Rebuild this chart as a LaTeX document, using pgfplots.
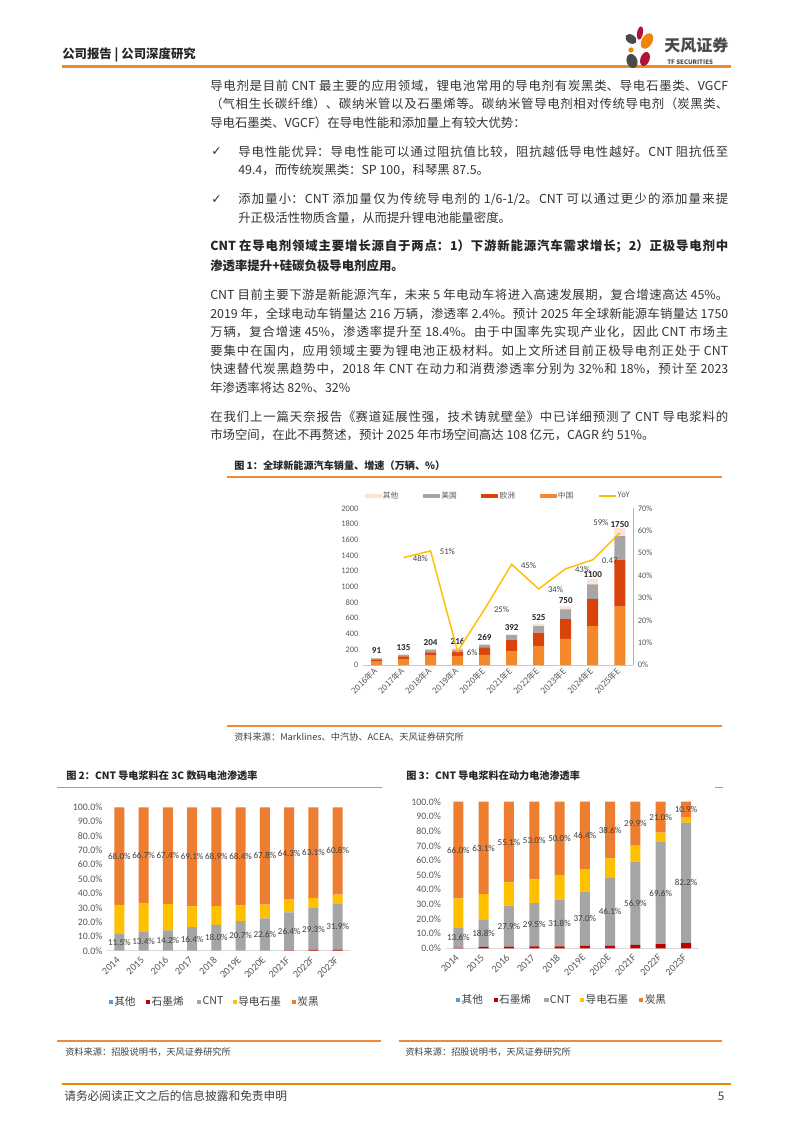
\documentclass[border=0pt]{standalone}
\usepackage{pgfplots}
\pgfplotsset{compat=1.18}
\usepackage{pgfplotstable}
\usepackage{fontspec}
\setmainfont{Noto Sans CJK SC}
\newfontfamily\calib{Carlito}
\newfontfamily\dvs{DejaVu Sans}
\XeTeXlinebreaklocale "zh"
\XeTeXlinebreakskip=0pt plus 2pt minus 0.4pt
\hbadness=10000
\definecolor{hdrline}{HTML}{F08A24}
\definecolor{footline}{HTML}{E38A00}
\definecolor{ttl}{HTML}{EE8A3A}
\definecolor{bodytxt}{HTML}{333333}
\definecolor{darktxt}{HTML}{262626}
\definecolor{tickg}{HTML}{595959}
\definecolor{labg}{HTML}{404040}
\definecolor{cCN}{HTML}{F4892C}
\definecolor{cEU}{HTML}{D9430C}
\definecolor{cUS}{HTML}{A6A6A6}
\definecolor{cOT}{HTML}{FBE3D6}
\definecolor{cYoY}{HTML}{FFC000}
\definecolor{cCB}{HTML}{ED7D31}
\definecolor{cGP}{HTML}{FFC000}
\definecolor{cCNT}{HTML}{A5A5A5}
\definecolor{cGR}{HTML}{C00000}
\definecolor{cOTH}{HTML}{5B9BD5}
\definecolor{logogray}{HTML}{4A4A4A}
\definecolor{logored}{HTML}{B0123A}
\definecolor{logoorg}{HTML}{F0850A}

\newcommand\jl[1]{\parbox[b]{388.5pt}{\parindent=0pt\parfillskip=0pt\relax #1}}
\newcommand\jb[1]{\parbox[b]{367.5pt}{\parindent=0pt\parfillskip=0pt\relax #1}}
\newcommand\bt{\fontsize{9.3}{11}\selectfont}

\pgfplotsset{
  wideleg/.style={legend image code/.code={\fill[##1] (0pt,-1.7pt) rectangle (12.75pt,1.7pt);}},
  lineleg/.style={legend image code/.code={\draw[##1] (0pt,0pt) -- (12.75pt,0pt);}},
  sqleg/.style={legend image code/.code={\fill[##1] (0pt,-1.6pt) rectangle (3.2pt,1.6pt);}},
}

\pgfplotstableread{
x cn eu us oth tot
0 50 22 12 7 91
1 77 33 18 7 135
2 120 42 34 8 204
3 118 52 28 18 216
4 128 97 33 11 269
5 180 143 58 11 392
6 240 175 80 30 525
7 335 250 125 40 750
8 495 350 185 70 1100
9 745 600 300 105 1750
}\tabA

\pgfplotstableread{
x oth gra cnt gph cb
0 0 0 11.5 20.5 68.0
1 0 0 13.4 19.9 66.7
2 0 0 14.2 18.4 67.4
3 0 0 16.4 14.5 69.1
4 0 0 18.0 13.1 68.9
5 0 0 20.7 10.9 68.4
6 0 0 22.6 9.6 67.8
7 0 0.3 26.4 9.0 64.3
8 0 0.5 29.3 7.1 63.1
9 0 0.8 31.9 6.5 60.8
}\tabB

\pgfplotstableread{
x oth gra cnt gph cb
0 0 0.3 13.6 20.1 66.0
1 0 1.0 18.8 17.1 63.1
2 0 1.2 27.9 15.8 55.1
3 0 1.3 29.5 16.2 53.0
4 0 1.4 31.8 16.8 50.0
5 0 1.6 37.0 15.0 46.4
6 0 1.8 46.1 13.5 38.6
7 0 2.3 56.9 10.9 29.9
8 0 2.8 69.6 6.6 21.0
9 0 3.5 82.2 3.4 10.9
}\tabC

\begin{document}
\begin{tikzpicture}[x=0.75pt,y=-0.75pt]
\path[use as bounding box] (0,0) rectangle (793,1122);
\fill[white] (0,0) rectangle (793,1122);

% ---------- header ----------
\node[anchor=west,inner sep=0,text=darktxt,font=\fontsize{9.3}{11}\selectfont\bfseries] at (62,55) {公司报告 | 公司深度研究};
\draw[hdrline,line width=1.6pt] (62,66.5) -- (731,66.5);
% logo
\fill[logogray] (631,39) ellipse [x radius=4.6pt, y radius=3.2pt, rotate=-35];
\fill[logored] (640,33) ellipse [x radius=2.2pt, y radius=5pt, rotate=-10];
\fill[logoorg] (647,41) ellipse [x radius=4pt, y radius=6.3pt, rotate=-30];
\fill[logoorg] (631,50) circle [radius=2pt];
\fill[logogray] (632,61) ellipse [x radius=4pt, y radius=5.4pt, rotate=20];
\fill[logored] (645,59) ellipse [x radius=3.4pt, y radius=5.4pt, rotate=-20];
\node[anchor=west,inner sep=0,text=logogray,font=\fontsize{12}{14}\selectfont\bfseries] at (664,45) {天风证券};
\node[anchor=west,inner sep=0,text=logogray,font=\fontsize{4.6}{5}\selectfont\bfseries] at (667,62) {TF SECURITIES};

% ---------- body text ----------
\begin{scope}[every node/.style={anchor=west,inner sep=0,text=bodytxt,font=\bt}]
\node at (210,85.5) {\jl{导电剂是目前 CNT 最主要的应用领域，锂电池常用的导电剂有炭黑类、导电石墨类、VGCF}};
\node at (210,103.5) {\jl{（气相生长碳纤维）、碳纳米管以及石墨烯等。碳纳米管导电剂相对传统导电剂（炭黑类、}};
\node at (210,122.5) {导电石墨类、VGCF）在导电性能和添加量上有较大优势：};
\node at (211,151.5) {\dvs ✓};
\node at (238,151.5) {\jb{导电性能优异：导电性能可以通过阻抗值比较，阻抗越低导电性越好。CNT 阻抗低至}};
\node at (238,170) {49.4，而传统炭黑类：SP 100，科琴黑 87.5。};
\node at (211,199.5) {\dvs ✓};
\node at (238,199.5) {\jb{添加量小：CNT 添加量仅为传统导电剂的 1/6-1/2。CNT 可以通过更少的添加量来提}};
\node at (238,217.5) {升正极活性物质含量，从而提升锂电池能量密度。};
\node[text=darktxt,font=\bt\bfseries] at (210,246.5) {\jl{CNT 在导电剂领域主要增长源自于两点：1）下游新能源汽车需求增长；2）正极导电剂中}};
\node[text=darktxt,font=\bt\bfseries] at (210,265.5) {渗透率提升+硅碳负极导电剂应用。};
\node at (210,295) {\jl{CNT 目前主要下游是新能源汽车，未来 5 年电动车将进入高速发展期，复合增速高达 45\%。}};
\node at (210,314) {\jl{2019 年，全球电动车销量达 216 万辆，渗透率 2.4\%。预计 2025 年全球新能源车销量达 1750}};
\node at (210,332) {\jl{万辆，复合增速 45\%，渗透率提升至 18.4\%。由于中国率先实现产业化，因此 CNT 市场主}};
\node at (210,350.5) {\jl{要集中在国内，应用领域主要为锂电池正极材料。如上文所述目前正极导电剂正处于 CNT}};
\node at (210,369) {\jl{快速替代炭黑趋势中，2018 年 CNT 在动力和消费渗透率分别为 32\%和 18\%，预计至 2023}};
\node at (210,387.5) {年渗透率将达 82\%、32\%};
\node at (210,417) {\jl{在我们上一篇天奈报告《赛道延展性强，技术铸就壁垒》中已详细预测了 CNT 导电浆料的}};
\node at (210,435) {市场空间，在此不再赘述，预计 2025 年市场空间高达 108 亿元，CAGR 约 51\%。};
\end{scope}

% ---------- figure 1 frame ----------
\node[anchor=west,inner sep=0,text=darktxt,font=\fontsize{7.6}{9}\selectfont\bfseries] at (234,466) {图 1：全球新能源汽车销量、增速（万辆、\%）};
\draw[ttl,line width=0.9pt] (227,477) -- (722,477);
\draw[ttl,line width=0.9pt] (227,726) -- (722,726);
\node[anchor=west,inner sep=0,text=labg,font=\fontsize{6.9}{8}\selectfont] at (234,737) {资料来源：Marklines、中汽协、ACEA、天风证券研究所};

% ---------- figure 2/3 frames ----------
\node[anchor=west,inner sep=0,text=darktxt,font=\fontsize{7.6}{9}\selectfont\bfseries] at (66,775.5) {图 2：CNT 导电浆料在 3C 数码电池渗透率};
\node[anchor=west,inner sep=0,text=darktxt,font=\fontsize{7.6}{9}\selectfont\bfseries] at (406,775.5) {图 3：CNT 导电浆料在动力电池渗透率};
\draw[ttl,line width=0.9pt] (57,787.3) -- (382,787.3);
\draw[ttl,line width=0.9pt] (715,787.3) -- (723,787.3);
\draw[ttl,line width=0.9pt] (57,1041) -- (381,1041);
\draw[ttl,line width=0.9pt] (399,1041) -- (722,1041);
\node[anchor=west,inner sep=0,text=labg,font=\fontsize{6.9}{8}\selectfont] at (65,1052) {资料来源：招股说明书，天风证券研究所};
\node[anchor=west,inner sep=0,text=labg,font=\fontsize{6.9}{8}\selectfont] at (405,1052) {资料来源：招股说明书，天风证券研究所};

% ---------- footer ----------
\draw[footline,line width=1.8pt] (62,1084) -- (731,1084);
\node[anchor=west,inner sep=0,text=labg,font=\fontsize{8.8}{10}\selectfont] at (64,1096.5) {请务必阅读正文之后的信息披露和免责申明};
\node[anchor=center,inner sep=0,text=labg,font=\fontsize{8.8}{10}\selectfont] at (721,1096) {5};

% ---------- chart 1 ----------
\coordinate (A1) at (363,665);
\begin{axis}[at={(A1)},anchor=south west,scale only axis,
  width=202.7pt,height=117.5pt,
  xmin=-0.5,xmax=9.5,ymin=0,ymax=2000,
  ybar stacked,bar width=8.25pt,
  axis x line*=bottom,axis y line*=left,
  y axis line style={draw=none},x axis line style={draw=black!22,line width=0.6pt},
  major tick length=0pt,tick style={draw=none},
  xtick={0,...,9},
  xticklabels={2016年A,2017年A,2018年A,2019年A,2020年E,2021年E,2022年E,2023年E,2024年E,2025年E},
  xticklabel style={font=\fontsize{6.3}{7}\selectfont,text=tickg,rotate=45,anchor=east,inner sep=1pt},
  xticklabel shift=2.5pt,
  ytick={0,200,...,2000},
  yticklabel style={font=\calib\fontsize{6.3}{7}\selectfont,text=tickg},
  /pgf/number format/1000 sep={},/pgf/number format/assume math mode=true,
  legend style={at={(0.005,1.078)},anchor=west,draw=none,fill=none,inner sep=0pt,
    font=\fontsize{5.8}{7}\selectfont,text=tickg,legend columns=5,
    nodes={inner sep=1pt}},
]
\addlegendimage{wideleg,fill=cOT,draw=none}\addlegendentry{\makebox[29pt][l]{其他}}
\addlegendimage{wideleg,fill=cUS,draw=none}\addlegendentry{\makebox[29pt][l]{美国}}
\addlegendimage{wideleg,fill=cEU,draw=none}\addlegendentry{\makebox[29pt][l]{欧洲}}
\addlegendimage{wideleg,fill=cCN,draw=none}\addlegendentry{\makebox[29pt][l]{中国}}
\addlegendimage{lineleg,draw=cYoY,line width=1pt}\addlegendentry{\makebox[20pt][l]{YoY}}
\addplot[forget plot,fill=cCN,draw=none] table[x=x,y=cn]{\tabA};
\addplot[forget plot,fill=cEU,draw=none] table[x=x,y=eu]{\tabA};
\addplot[forget plot,fill=cUS,draw=none] table[x=x,y=us]{\tabA};
\addplot[forget plot,fill=cOT,draw=none,
  point meta=\thisrow{tot},nodes near coords,
  every node near coord/.append style={font=\calib\bfseries\fontsize{6.8}{8}\selectfont,text=darktxt,anchor=south,inner sep=2pt,yshift=1pt}]
  table[x=x,y=oth]{\tabA};
\end{axis}
\begin{axis}[at={(A1)},anchor=south west,scale only axis,
  width=202.7pt,height=117.5pt,
  xmin=-0.5,xmax=9.5,ymin=0,ymax=70,
  axis x line=none,axis y line*=right,
  y axis line style={draw=black!30,line width=0.6pt},
  major tick length=0pt,tick style={draw=none},
  ytick={0,10,...,70},
  yticklabel={\pgfmathprintnumber{\tick}\%},
  yticklabel style={font=\calib\fontsize{6.3}{7}\selectfont,text=tickg},
  /pgf/number format/assume math mode=true,
]
\addplot[cYoY,line width=1.1pt,mark=none] coordinates {(1,48)(2,51)(3,6)(4,25)(5,45)(6,34)(7,43)(8,47)(9,59)};
\addplot[draw=none,mark=none,point meta=explicit symbolic,nodes near coords,
  every node near coord/.append style={anchor=west,xshift=3.5pt,yshift=-0.6pt,font=\calib\fontsize{6.5}{8}\selectfont,text=labg}]
  coordinates {(1,48)[48\%] (2,51)[51\%] (3,6)[6\%] (4,25)[25\%] (5,45)[45\%] (6,34)[34\%] (7,43)[43\%] (8,47)[0.47]};
\addplot[draw=none,mark=none,point meta=explicit symbolic,nodes near coords,
  every node near coord/.append style={anchor=south east,xshift=-5pt,yshift=2pt,font=\calib\fontsize{6.5}{8}\selectfont,text=labg}]
  coordinates {(9,59)[59\%]};
\end{axis}

% ---------- chart 2 ----------
\coordinate (A2) at (107.2,950.7);
\begin{axis}[at={(A2)},anchor=south west,scale only axis,
  width=182pt,height=107.55pt,
  xmin=-0.5,xmax=9.5,ymin=0,ymax=100,
  ybar stacked,bar width=7.5pt,
  axis x line*=bottom,axis y line*=left,
  y axis line style={draw=none},x axis line style={draw=black!15,line width=0.8pt},
  major tick length=0pt,tick style={draw=none},
  xtick={0,...,9},
  xticklabels={2014,2015,2016,2017,2018,2019E,2020E,2021F,2022F,2023F},
  xticklabel style={font=\calib\fontsize{7.6}{8}\selectfont,text=tickg,rotate=45,anchor=east,inner sep=1pt},
  xticklabel shift=5pt,
  ytick={0,10,...,100},
  yticklabel={\pgfmathprintnumber[fixed,fixed zerofill,precision=1]{\tick}\%},
  yticklabel style={font=\calib\fontsize{7.4}{8}\selectfont,text=tickg},
  /pgf/number format/assume math mode=true,
  legend style={at={(0.005,-0.356)},anchor=west,draw=none,fill=none,inner sep=0pt,
    font=\fontsize{8}{9}\selectfont,text=labg,legend columns=5,
    nodes={inner sep=1pt}},
]
\addlegendimage{sqleg,fill=cOTH,draw=none}\addlegendentry{\makebox[22.9pt][l]{其他}}
\addlegendimage{sqleg,fill=cGR,draw=none}\addlegendentry{\makebox[32.9pt][l]{石墨烯}}
\addlegendimage{sqleg,fill=cCNT,draw=none}\addlegendentry{\makebox[21.6pt][l]{CNT}}
\addlegendimage{sqleg,fill=cGP,draw=none}\addlegendentry{\makebox[39.1pt][l]{导电石墨}}
\addlegendimage{sqleg,fill=cCB,draw=none}\addlegendentry{炭黑}
\addplot[forget plot,fill=cOTH,draw=none] table[x=x,y=oth]{\tabB};
\addplot[forget plot,fill=cGR,draw=none] table[x=x,y=gra]{\tabB};
\addplot[forget plot,fill=cCNT,draw=none,
  visualization depends on={\thisrow{cnt}\as\segh},
  nodes near coords={\pgfmathprintnumber[fixed,fixed zerofill,precision=1]{\segh}\%},
  every node near coord/.append style={anchor=center,font=\calib\fontsize{6.8}{8}\selectfont,text=labg,inner sep=0pt}]
  table[x=x,y=cnt]{\tabB};
\addplot[forget plot,fill=cGP,draw=none] table[x=x,y=gph]{\tabB};
\addplot[forget plot,fill=cCB,draw=none,
  visualization depends on={\thisrow{cb}\as\segh},
  nodes near coords={\pgfmathprintnumber[fixed,fixed zerofill,precision=1]{\segh}\%},
  every node near coord/.append style={anchor=center,font=\calib\fontsize{6.8}{8}\selectfont,text=labg,inner sep=0pt}]
  table[x=x,y=cb]{\tabB};
\end{axis}

% ---------- chart 3 ----------
\coordinate (A3) at (445.7,948.3);
\begin{axis}[at={(A3)},anchor=south west,scale only axis,
  width=189.75pt,height=109.95pt,
  xmin=-0.5,xmax=9.5,ymin=0,ymax=100,
  ybar stacked,bar width=7.5pt,
  axis x line*=bottom,axis y line*=left,
  y axis line style={draw=none},x axis line style={draw=black!15,line width=0.8pt},
  major tick length=0pt,tick style={draw=none},
  xtick={0,...,9},
  xticklabels={2014,2015,2016,2017,2018,2019E,2020E,2021F,2022F,2023F},
  xticklabel style={font=\calib\fontsize{7.6}{8}\selectfont,text=tickg,rotate=45,anchor=east,inner sep=1pt},
  xticklabel shift=5pt,
  ytick={0,10,...,100},
  yticklabel={\pgfmathprintnumber[fixed,fixed zerofill,precision=1]{\tick}\%},
  yticklabel style={font=\calib\fontsize{7.4}{8}\selectfont,text=tickg},
  /pgf/number format/assume math mode=true,
  legend style={at={(0.04,-0.353)},anchor=west,draw=none,fill=none,inner sep=0pt,
    font=\fontsize{8}{9}\selectfont,text=labg,legend columns=5,
    nodes={inner sep=1pt}},
]
\addlegendimage{sqleg,fill=cOTH,draw=none}\addlegendentry{\makebox[22.9pt][l]{其他}}
\addlegendimage{sqleg,fill=cGR,draw=none}\addlegendentry{\makebox[32.9pt][l]{石墨烯}}
\addlegendimage{sqleg,fill=cCNT,draw=none}\addlegendentry{\makebox[21.6pt][l]{CNT}}
\addlegendimage{sqleg,fill=cGP,draw=none}\addlegendentry{\makebox[39.1pt][l]{导电石墨}}
\addlegendimage{sqleg,fill=cCB,draw=none}\addlegendentry{炭黑}
\addplot[forget plot,fill=cOTH,draw=none] table[x=x,y=oth]{\tabC};
\addplot[forget plot,fill=cGR,draw=none] table[x=x,y=gra]{\tabC};
\addplot[forget plot,fill=cCNT,draw=none,
  visualization depends on={\thisrow{cnt}\as\segh},
  nodes near coords={\pgfmathprintnumber[fixed,fixed zerofill,precision=1]{\segh}\%},
  every node near coord/.append style={anchor=center,font=\calib\fontsize{6.8}{8}\selectfont,text=labg,inner sep=0pt}]
  table[x=x,y=cnt]{\tabC};
\addplot[forget plot,fill=cGP,draw=none] table[x=x,y=gph]{\tabC};
\addplot[forget plot,fill=cCB,draw=none,
  visualization depends on={\thisrow{cb}\as\segh},
  nodes near coords={\pgfmathprintnumber[fixed,fixed zerofill,precision=1]{\segh}\%},
  every node near coord/.append style={anchor=center,font=\calib\fontsize{6.8}{8}\selectfont,text=labg,inner sep=0pt}]
  table[x=x,y=cb]{\tabC};
\end{axis}
\end{tikzpicture}
\end{document}
